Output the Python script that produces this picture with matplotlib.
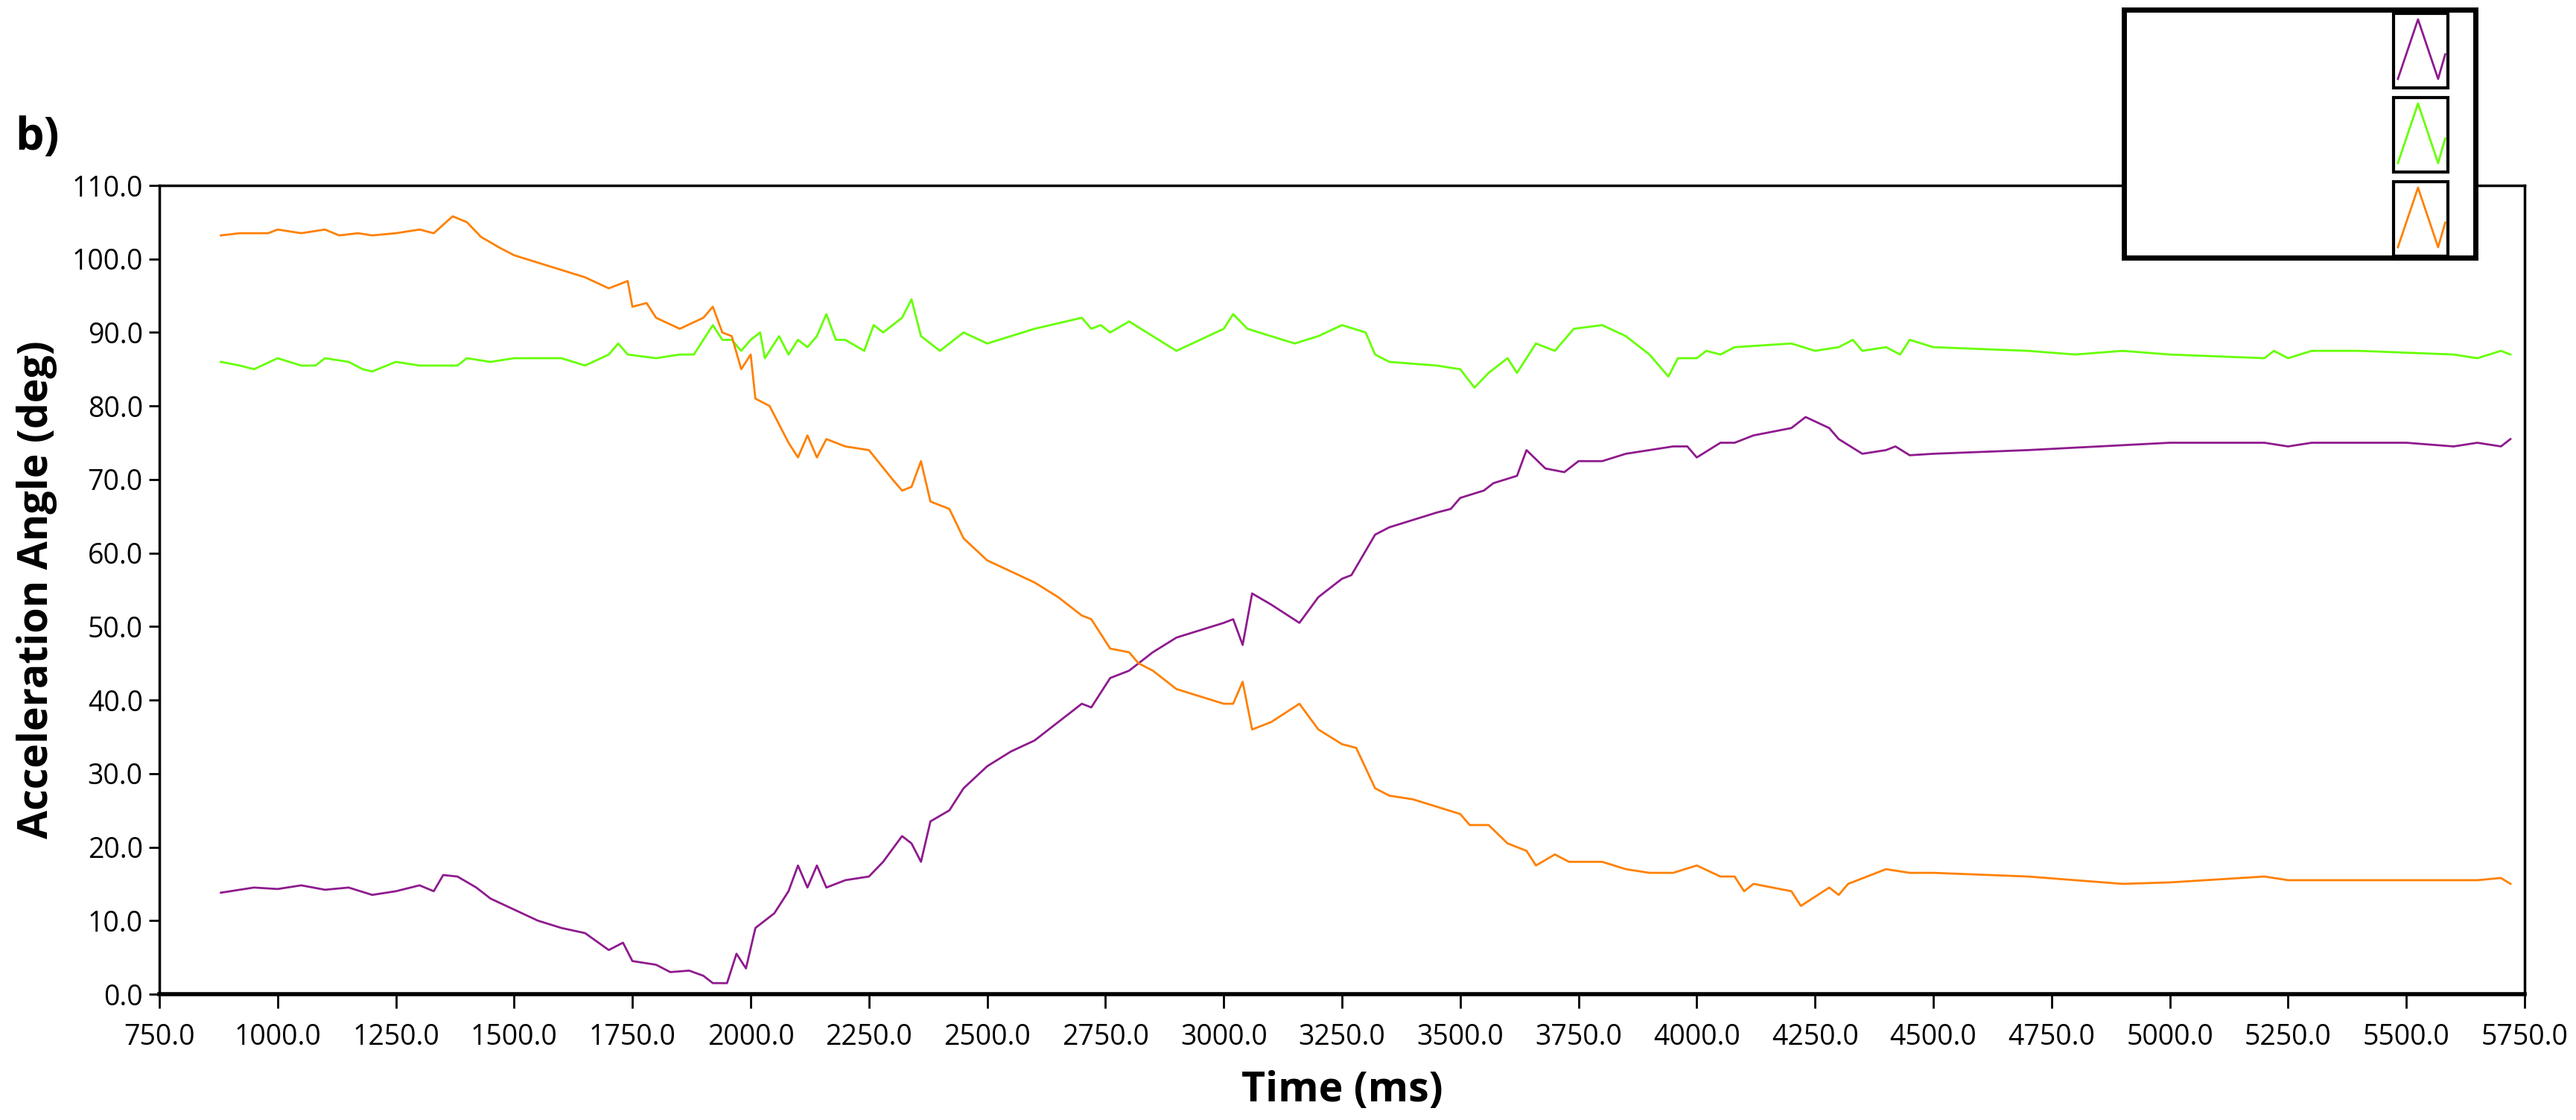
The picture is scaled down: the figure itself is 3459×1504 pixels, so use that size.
import matplotlib
matplotlib.use("Agg")
import matplotlib.pyplot as plt
from matplotlib.patches import Rectangle
from matplotlib.lines import Line2D

purple_t = [880,950,1000,1050,1100,1150,1200,1250,1300,1330,1350,1380,1420,1450,1500,1550,1600,1650,1700,1730,1750,1800,1830,1870,1900,1920,1950,1970,1990,2010,2050,2080,2100,2120,2140,2160,2200,2250,2280,2320,2340,2360,2380,2420,2450,2500,2550,2600,2650,2700,2720,2760,2800,2850,2900,2950,3000,3020,3040,3060,3100,3160,3200,3250,3270,3320,3350,3400,3450,3480,3500,3550,3570,3620,3640,3680,3720,3750,3800,3850,3900,3950,3980,4000,4050,4080,4120,4200,4230,4280,4300,4350,4400,4420,4450,4500,4700,5000,5200,5250,5300,5500,5600,5650,5700,5720]
purple_v = [13.8,14.5,14.3,14.8,14.2,14.5,13.5,14.0,14.8,14,16.2,16,14.5,13,11.5,10,9,8.3,6,7,4.5,4,3,3.2,2.5,1.5,1.5,5.5,3.5,9,11,14,17.5,14.5,17.5,14.5,15.5,16,18,21.5,20.5,18,23.5,25,28,31,33,34.5,37,39.5,39,43,44,46.5,48.5,49.5,50.5,51,47.5,54.5,53,50.5,54,56.5,57,62.5,63.5,64.5,65.5,66,67.5,68.5,69.5,70.5,74,71.5,71,72.5,72.5,73.5,74,74.5,74.5,73,75,75,76,77,78.5,77,75.5,73.5,74,74.5,73.3,73.5,74,75,75,74.5,75,75,74.5,75,74.5,75.5]

orange_t = [880,920,980,1000,1050,1100,1130,1170,1200,1250,1300,1330,1370,1400,1430,1470,1500,1550,1600,1650,1700,1740,1750,1780,1800,1850,1900,1920,1940,1960,1980,2000,2010,2040,2080,2100,2120,2140,2160,2200,2250,2300,2320,2340,2360,2380,2420,2450,2500,2550,2600,2650,2700,2720,2760,2800,2820,2850,2900,2950,3000,3020,3040,3060,3100,3160,3200,3250,3280,3320,3350,3400,3450,3500,3520,3560,3600,3640,3660,3700,3730,3800,3850,3900,3950,4000,4050,4080,4100,4120,4200,4220,4280,4300,4320,4400,4450,4500,4700,4900,5000,5200,5250,5500,5650,5700,5720]
orange_v = [103.2,103.5,103.5,104,103.5,104,103.2,103.5,103.2,103.5,104,103.5,105.8,105,103,101.5,100.5,99.5,98.5,97.5,96,97,93.5,94,92,90.5,92,93.5,90,89.5,85,87,81,80,75,73,76,73,75.5,74.5,74,70,68.5,69,72.5,67,66,62,59,57.5,56,54,51.5,51,47,46.5,45,44,41.5,40.5,39.5,39.5,42.5,36,37,39.5,36,34,33.5,28,27,26.5,25.5,24.5,23,23,20.5,19.5,17.5,19,18,18,17,16.5,16.5,17.5,16,16,14,15,14,12,14.5,13.5,15,17,16.5,16.5,16,15,15.2,16,15.5,15.5,15.5,15.8,15]

green_t = [880,920,950,1000,1050,1080,1100,1150,1180,1200,1250,1300,1350,1380,1400,1450,1500,1550,1600,1650,1700,1720,1740,1800,1850,1880,1900,1920,1940,1960,1980,2000,2020,2030,2060,2080,2100,2120,2140,2160,2180,2200,2240,2260,2280,2320,2340,2360,2400,2450,2500,2600,2700,2720,2740,2760,2800,2900,3000,3020,3050,3150,3200,3250,3300,3320,3350,3450,3500,3530,3560,3600,3620,3660,3700,3740,3800,3850,3900,3940,3960,4000,4020,4050,4080,4200,4250,4300,4330,4350,4400,4430,4450,4500,4700,4800,4900,5000,5200,5220,5250,5300,5400,5600,5650,5700,5720]
green_v = [86,85.5,85,86.5,85.5,85.5,86.5,86,85,84.7,86,85.5,85.5,85.5,86.5,86,86.5,86.5,86.5,85.5,87,88.5,87,86.5,87,87,89,91,89,89,87.5,89,90,86.5,89.5,87,89,88,89.5,92.5,89,89,87.5,91,90,92,94.5,89.5,87.5,90,88.5,90.5,92,90.5,91,90,91.5,87.5,90.5,92.5,90.5,88.5,89.5,91,90,87,86,85.5,85,82.5,84.5,86.5,84.5,88.5,87.5,90.5,91,89.5,87,84,86.5,86.5,87.5,87,88,88.5,87.5,88,89,87.5,88,87,89,88,87.5,87,87.5,87,86.5,87.5,86.5,87.5,87.5,87,86.5,87.5,87]

x_ticks = [750 + 250 * i for i in range(21)]
y_ticks = [10 * i for i in range(12)]

PURPLE = "#8E1A8E"
GREEN = "#66FF00"
ORANGE = "#FF8000"

plt.rcParams['font.family'] = ['Open Sans', 'DejaVu Sans']
fig = plt.figure(figsize=(34.59, 15.04), dpi=100)
W, H = 3459, 1504
ax = fig.add_axes([214/W, 1 - 1335/H, (3390-214)/W, (1335-249)/H])
ax.plot(purple_t, purple_v, color=PURPLE, lw=2)
ax.plot(green_t, green_v, color=GREEN, lw=2)
ax.plot(orange_t, orange_v, color=ORANGE, lw=2)
ax.set_xlim(750, 5750)
ax.set_ylim(0, 110)
ax.set_xticks(x_ticks)
ax.set_xticklabels([f"{t:.1f}" for t in x_ticks])
ax.set_yticks(y_ticks)
ax.set_yticklabels([f"{v:.1f}" for v in y_ticks])
for s in ax.spines.values():
    s.set_linewidth(2.5)
    s.set_color("black")
ax.spines['bottom'].set_linewidth(4)
ax.tick_params(axis='x', direction='out', length=14, width=2, pad=14, labelsize=27)
ax.tick_params(axis='y', direction='out', length=10, width=2, pad=6, labelsize=27)
ax.set_xlabel("Time (ms)", fontsize=40, fontweight='bold', labelpad=18)
ax.set_ylabel("Acceleration Angle (deg)", fontsize=40, fontweight='bold', labelpad=14)

fig.text(20/W, 1 - 185/H, "b)", fontsize=44, fontweight='bold', va='center', ha='left')

# legend box
fig.patches.append(Rectangle((2852/W, 1 - 346/H), (3324-2852)/W, (346-13)/H,
                             transform=fig.transFigure, facecolor='white',
                             edgecolor='black', lw=5, zorder=10))
for i, c in enumerate([PURPLE, GREEN, ORANGE]):
    y0 = 1 - (18 + i * 113 + 100) / H
    x0 = 3214 / W
    w = 73 / W
    h = 100 / H
    fig.patches.append(Rectangle((x0, y0), w, h, transform=fig.transFigure,
                                 facecolor='white', edgecolor='black', lw=3, zorder=11))
    xs = [x0 + w * f for f in (0.08, 0.45, 0.82, 0.95)]
    ys = [y0 + h * f for f in (0.12, 0.92, 0.12, 0.45)]
    fig.lines.append(Line2D(xs, ys, transform=fig.transFigure, color=c, lw=2, zorder=12))

fig.savefig("out.png", dpi=100, facecolor='white')
